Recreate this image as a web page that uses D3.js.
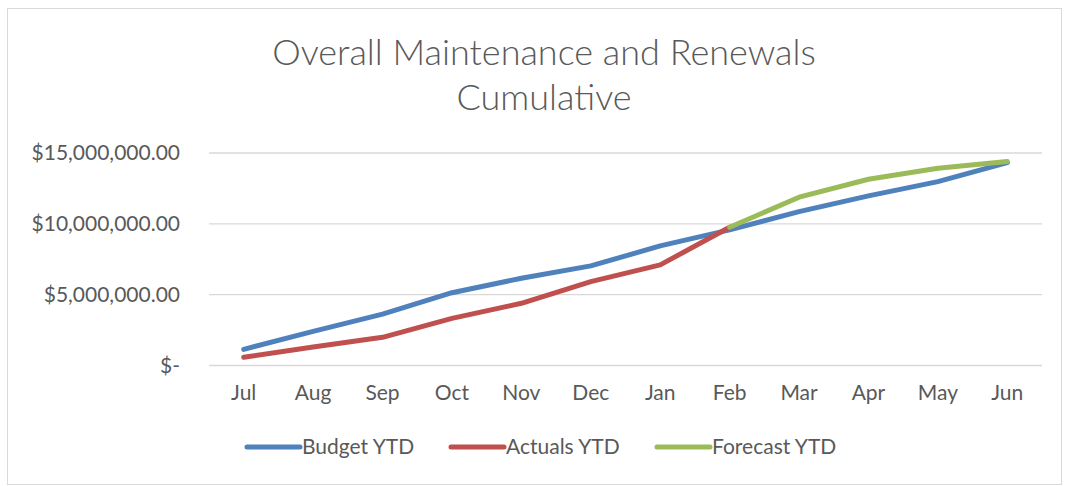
<!DOCTYPE html>
<html>
<head>
<meta charset="utf-8">
<script src="https://cdn.jsdelivr.net/npm/d3@7"></script>
<style>
  body { margin: 0; background: #fff; }
  svg text { font-family: Lato, "Open Sans", sans-serif; fill: #595959; }
</style>
</head>
<body>
<svg id="chart"></svg>
<script>
// months on the x axis
var months = ["Jul", "Aug", "Sep", "Oct", "Nov", "Dec", "Jan", "Feb", "Mar", "Apr", "May", "Jun"];

// cumulative values
var budgetYTD   = [1140000, 2410000, 3630000, 5140000, 6160000, 7030000, 8440000, 9570000, 10860000, 11970000, 12980000, 14320000];
var actualsYTD  = [580000, 1310000, 1990000, 3330000, 4390000, 5920000, 7100000, 9760000, null, null, null, null];
var forecastYTD = [null, null, null, null, null, null, null, 9760000, 11880000, 13150000, 13930000, 14400000];

var yTicks = [0, 5000000, 10000000, 15000000];
var seriesNames = ["Budget YTD", "Actuals YTD", "Forecast YTD"];
var seriesColours = ["#4f81bd", "#c0504d", "#9bbb59"];

var width = 1066, height = 486;
var plotLeft = 209, plotRight = 1042, plotTop = 153, plotBottom = 365.5;

var svg = d3.select("#chart")
  .attr("width", width)
  .attr("height", height);

// chart border
svg.append("rect")
  .attr("x", 7.5).attr("y", 8.5)
  .attr("width", 1054).attr("height", 476)
  .attr("fill", "#fff")
  .attr("stroke", "#d9d9d9");

// title
var title = svg.append("text")
  .attr("x", 544)
  .attr("text-anchor", "middle")
  .style("font-weight", 300)
  .style("font-size", "36px");
title.append("tspan").attr("x", 544).attr("y", 65).text("Overall Maintenance and Renewals");
title.append("tspan").attr("x", 544).attr("y", 110).text("Cumulative");

var x = d3.scaleBand()
  .domain(months)
  .range([plotLeft, plotRight]);

var y = d3.scaleLinear()
  .domain([0, 15000000])
  .range([plotBottom, plotTop]);

// gridlines
svg.append("g")
  .selectAll("line")
  .data(yTicks)
  .enter().append("line")
    .attr("x1", plotLeft).attr("x2", plotRight)
    .attr("y1", function(d) { return y(d); })
    .attr("y2", function(d) { return y(d); })
    .attr("stroke", "#d9d9d9")
    .attr("stroke-width", 1.3);

// y axis labels
var fmt = d3.format(",.2f");
var yAxis = d3.axisLeft(y)
  .tickValues(yTicks)
  .tickSize(0)
  .tickPadding(29)
  .tickFormat(function(d) { return d === 0 ? "$-" : "$" + fmt(d); });

svg.append("g")
  .attr("transform", "translate(" + plotLeft + ",0)")
  .call(yAxis)
  .call(function(g) { g.select(".domain").remove(); })
  .selectAll("text")
    .attr("fill", "#595959")
    .style("font-size", "21px")
    .style("font-family", "Lato, sans-serif");

// x axis labels
var xAxis = d3.axisBottom(x).tickSize(0).tickPadding(20);
svg.append("g")
  .attr("transform", "translate(0," + plotBottom + ")")
  .call(xAxis)
  .call(function(g) { g.select(".domain").remove(); })
  .selectAll("text")
    .attr("fill", "#595959")
    .style("font-size", "21px")
    .style("font-family", "Lato, sans-serif");

// lines
var line = d3.line()
  .defined(function(d) { return d != null; })
  .x(function(d, i) { return x(months[i]) + x.bandwidth() / 2; })
  .y(function(d) { return y(d); });

[budgetYTD, actualsYTD, forecastYTD].forEach(function(s, i) {
  svg.append("path")
    .datum(s)
    .attr("d", line)
    .attr("fill", "none")
    .attr("stroke", seriesColours[i])
    .attr("stroke-width", 5)
    .attr("stroke-linejoin", "round")
    .attr("stroke-linecap", "round");
});

// legend
var legendX = [247, 451, 657];
var legend = svg.append("g")
  .selectAll("g")
  .data(seriesNames)
  .enter().append("g")
    .attr("transform", function(d, i) { return "translate(" + legendX[i] + ",447)"; });

legend.append("line")
  .attr("x1", 0).attr("x2", 53)
  .attr("stroke", function(d, i) { return seriesColours[i]; })
  .attr("stroke-width", 5)
  .attr("stroke-linecap", "round");

legend.append("text")
  .attr("x", 55)
  .attr("dy", "0.35em")
  .style("font-size", "21px")
  .text(function(d) { return d; });
</script>
</body>
</html>
